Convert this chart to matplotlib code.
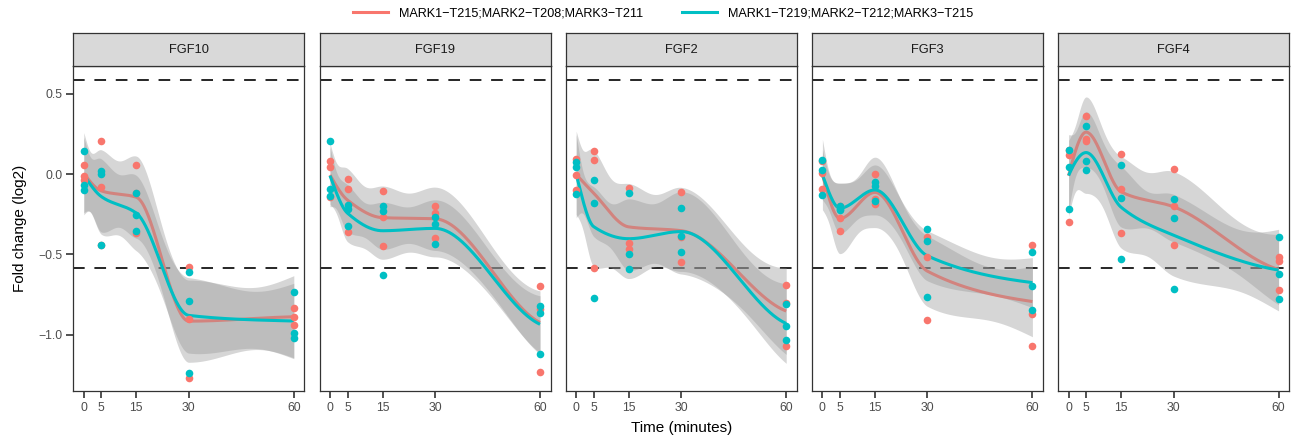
import numpy as np
import matplotlib.pyplot as plt
from matplotlib.lines import Line2D

plt.rcParams['font.family'] = ['Liberation Sans', 'DejaVu Sans']

czasy = [0, 5, 15, 30, 60]
geny = ['FGF10', 'FGF19', 'FGF2', 'FGF3', 'FGF4']
nazwy_serii = ['MARK1\u2212T215;MARK2\u2212T208;MARK3\u2212T211',
               'MARK1\u2212T219;MARK2\u2212T212;MARK3\u2212T215']
kolory = ['#F8766D', '#00BFC4']
prog = np.log2(1.5)

# 3 replicates per time point (rows follow czasy)
fgf10_t215 = [[0.056, -0.012, -0.035], [0.208, -0.081, -0.44], [0.056, -0.12, -0.367],
              [-0.58, -0.90, -1.266], [-0.832, -0.892, -0.94]]
fgf10_t219 = [[0.146, -0.066, -0.096], [0.021, 0.0, -0.44], [-0.12, -0.253, -0.355],
              [-0.609, -0.788, -1.241], [-0.732, -0.988, -1.023]]

fgf19_t215 = [[0.079, 0.044, -0.14], [-0.031, -0.094, -0.36], [-0.102, -0.264, -0.447],
              [-0.198, -0.239, -0.397], [-0.696, -0.842, -1.233]]
fgf19_t219 = [[0.204, -0.094, -0.139], [-0.191, -0.216, -0.322], [-0.20, -0.227, -0.63],
              [-0.264, -0.312, -0.437], [-0.821, -0.863, -1.12]]

fgf2_t215 = [[0.096, -0.004, -0.098], [0.141, 0.089, -0.586], [-0.087, -0.43, -0.468],
             [-0.114, -0.393, -0.549], [-0.69, -0.80, -1.067]]
fgf2_t219 = [[0.073, 0.044, -0.125], [-0.035, -0.177, -0.769], [-0.119, -0.497, -0.59],
             [-0.208, -0.383, -0.482], [-0.81, -0.946, -1.033]]

fgf3_t215 = [[0.079, 0.006, -0.091], [-0.198, -0.274, -0.355], [0.0, -0.156, -0.185],
             [-0.389, -0.514, -0.909], [-0.439, -0.871, -1.069]]
fgf3_t219 = [[0.089, 0.027, -0.129], [-0.198, -0.216, -0.222], [-0.052, -0.073, -0.17],
             [-0.343, -0.416, -0.767], [-0.484, -0.696, -0.846]]

fgf4_t215 = [[0.15, 0.12, -0.30], [0.36, 0.22, 0.204], [0.127, -0.091, -0.366],
             [0.031, -0.198, -0.443], [-0.514, -0.543, -0.724]]
fgf4_t219 = [[0.15, 0.042, -0.218], [0.301, 0.079, 0.023], [0.058, -0.146, -0.53],
             [-0.156, -0.272, -0.713], [-0.393, -0.624, -0.775]]

dane = {'FGF10': [fgf10_t215, fgf10_t219],
        'FGF19': [fgf19_t215, fgf19_t219],
        'FGF2': [fgf2_t215, fgf2_t219],
        'FGF3': [fgf3_t215, fgf3_t219],
        'FGF4': [fgf4_t215, fgf4_t219]}

stopnie_swobody = 13   # approx residual df of the smoother
t_975 = 2.160          # t quantile for df = 13


def nachylenia(x, m):
    # monotone (pchip-like) slopes at the time points
    h = np.diff(x)
    de = np.diff(m) / h
    n = len(x)
    d = np.zeros(n)
    for k in range(1, n - 1):
        if de[k - 1] * de[k] > 0:
            w1 = 2 * h[k] + h[k - 1]
            w2 = h[k] + 2 * h[k - 1]
            d[k] = (w1 + w2) / (w1 / de[k - 1] + w2 / de[k])
    d0 = ((2 * h[0] + h[1]) * de[0] - h[0] * de[1]) / (h[0] + h[1])
    if np.sign(d0) != np.sign(de[0]):
        d0 = 0.0
    elif np.sign(de[0]) != np.sign(de[1]) and abs(d0) > 3 * abs(de[0]):
        d0 = 3 * de[0]
    d[0] = d0
    d[-1] = 0.5 * de[-1]
    return d


def wygladz(powt):
    x = np.array(czasy, float)
    Y = np.array(powt, float)
    m = Y.mean(axis=1)
    rss = ((Y - m[:, None]) ** 2).sum()
    sigma2 = rss / stopnie_swobody
    d = nachylenia(x, m)

    n = len(x)
    E = np.eye(n)
    S = np.zeros((n, n))
    S[0] = (E[1] - E[0]) / (x[1] - x[0])
    for k in range(1, n - 1):
        S[k] = (E[k + 1] - E[k - 1]) / (x[k + 1] - x[k - 1])
    S[-1] = (E[-1] - E[-2]) / (x[-1] - x[-2])

    xs = np.linspace(x[0], x[-1], 300)
    k = np.clip(np.searchsorted(x, xs, side='right') - 1, 0, n - 2)
    dx = x[k + 1] - x[k]
    t = (xs - x[k]) / dx
    h00 = 2 * t ** 3 - 3 * t ** 2 + 1
    h10 = t ** 3 - 2 * t ** 2 + t
    h01 = -2 * t ** 3 + 3 * t ** 2
    h11 = t ** 3 - t ** 2
    fit = h00 * m[k] + h10 * dx * d[k] + h01 * m[k + 1] + h11 * dx * d[k + 1]

    L = (h00[:, None] * E[k] + h01[:, None] * E[k + 1]
         + (dx * h10)[:, None] * S[k] + (dx * h11)[:, None] * S[k + 1])
    se = np.sqrt(sigma2 / 3.0 * (L ** 2).sum(axis=1))
    return xs, fit, fit - t_975 * se, fit + t_975 * se


fig = plt.figure(figsize=(12.96, 4.4), dpi=100)
W, H = 1296.0, 440.0
lewo0 = 73.3
krok = 246.2
szer = 231.0
gora = 66.5
dol = 391.0
pasek = 33.5

for i, gen in enumerate(geny):
    x0 = (lewo0 + i * krok) / W
    ax = fig.add_axes([x0, 1 - dol / H, szer / W, (dol - gora) / H])
    st = fig.add_axes([x0, 1 - gora / H, szer / W, pasek / H])

    for yy in (prog, -prog):
        ax.axhline(yy, color='#262626', lw=1.4, ls=(0, (6, 5)), zorder=1)

    for j, powt in enumerate(dane[gen]):
        xs, fit, lo, hi = wygladz(powt)
        ax.fill_between(xs, lo, hi, color='#999999', alpha=0.4, linewidth=0, zorder=2 + j * 0.2)
        ax.plot(xs, fit, color=kolory[j], lw=2.2, zorder=2.1 + j * 0.2, solid_capstyle='butt')

    for j, powt in enumerate(dane[gen]):
        px = np.repeat(czasy, 3)
        py = np.array(powt).ravel()
        ax.scatter(px, py, s=30, color=kolory[j], linewidths=0, zorder=4 + j * 0.1)

    ax.set_xlim(-3, 63)
    ax.set_ylim(-1.35, 0.67)
    ax.set_xticks(czasy)
    ax.set_xticklabels([str(c) for c in czasy])
    ax.set_yticks([-1.0, -0.5, 0.0, 0.5])
    if i == 0:
        ax.set_yticklabels(['\u22121.0', '\u22120.5', '0.0', '0.5'])
    else:
        ax.tick_params(axis='y', left=False, labelleft=False)
    ax.tick_params(direction='out', length=5, width=1.2, color='#333333',
                   labelcolor='#4d4d4d', labelsize=8.8, pad=3)
    for s in ax.spines.values():
        s.set_color('#333333')
        s.set_linewidth(0.9)

    st.set_facecolor('#d9d9d9')
    st.set_xticks([])
    st.set_yticks([])
    for s in st.spines.values():
        s.set_color('#333333')
        s.set_linewidth(0.9)
    st.text(0.5, 0.5, gen, ha='center', va='center', fontsize=9.3, color='#1a1a1a',
            transform=st.transAxes)

fig.text(20 / W, 1 - (gora + dol) / 2 / H, 'Fold change (log2)', rotation=90,
         ha='center', va='center', fontsize=11, color='black')
fig.text((lewo0 + 4 * krok + szer + lewo0) / 2 / W, 1 - 428 / H, 'Time (minutes)',
         ha='center', va='center', fontsize=11, color='black')

uchwyty = [Line2D([0], [0], color=kolory[0], lw=2.2),
           Line2D([0], [0], color=kolory[1], lw=2.2)]
fig.legend(uchwyty, nazwy_serii, loc='center', bbox_to_anchor=(663 / W, 1 - 13 / H),
           ncol=2, frameon=False, fontsize=9.1, handlelength=2.75, handletextpad=0.85,
           columnspacing=3.1, borderpad=0)

fig.savefig('out.png', dpi=100)
